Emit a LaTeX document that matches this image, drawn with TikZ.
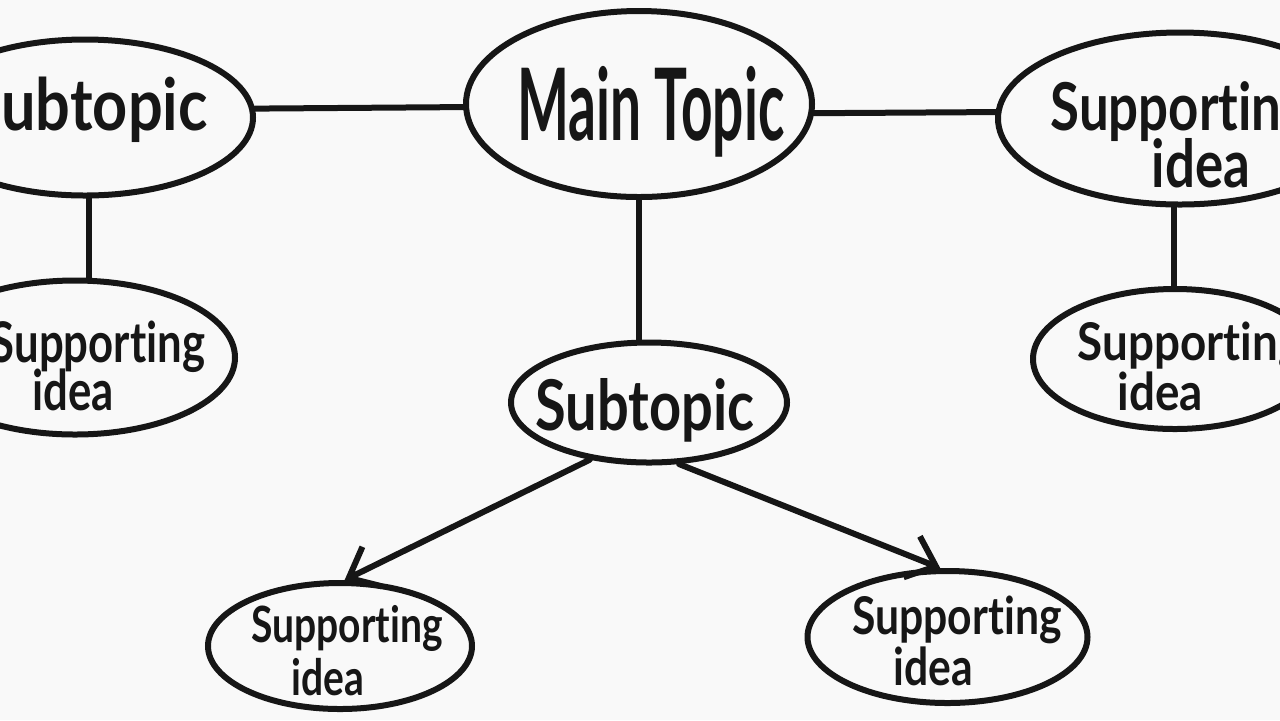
\documentclass[tikz,border=0pt]{standalone}
\usepackage{fontspec}
\setmainfont{Lato}[Ligatures={NoCommon}]
\usetikzlibrary{shapes.geometric,arrows.meta}
\definecolor{paper}{HTML}{F9F9F9}
\definecolor{ink}{HTML}{161616}
\newcommand\hw[3]{\scalebox{#1}[1]{\fontsize{#2pt}{#2pt}\selectfont\bfseries #3}}
\begin{document}
\begin{tikzpicture}[x=0.5pt,y=-0.5pt,
  bub/.style={ellipse, draw=ink, line width=3pt, inner sep=0pt},
  link/.style={draw=ink, line width=3pt, line cap=round},
  arr/.style={link, -{Straight Barb[length=13pt, width=22pt, line width=3pt]}},
  lbl/.style={anchor=base, inner sep=0pt, text=ink}]
\fill[paper] (0,0) rectangle (1280,720);
\useasboundingbox (0,0) rectangle (1280,720);
\clip (0,0) rectangle (1280,720);

% bubbles (minimum width in pt = horizontal radius in px)
\node[bub, minimum width=173pt, minimum height=93pt] (main) at (639,104) {};
\node[bub, minimum width=168pt, minimum height=78pt] (s1) at (85,117.5) {};
\node[bub, minimum width=160pt, minimum height=77pt] (sL) at (75,357.5) {};
\node[bub, minimum width=182pt, minimum height=86pt] (tr) at (1180,118.5) {};
\node[bub, minimum width=142pt, minimum height=70pt] (r2) at (1175,359) {};
\node[bub, minimum width=138pt, minimum height=60pt] (mid) at (649,402.5) {};
\node[bub, minimum width=132pt, minimum height=63pt] (bl) at (340,646) {};
\node[bub, minimum width=140pt, minimum height=66pt] (br) at (947.5,637) {};

% labels
\node[lbl] (tmain) at (651,140) {\hw{0.55}{50}{Main Topic}};
\node[lbl] (ts1) at (88,130) {\hw{0.85}{36}{Subtopic}};
\node[lbl] (tmid) at (645,430) {\hw{0.8}{35}{Subtopic}};
\node[lbl] (ttra) at (1180,130) {\hw{0.8}{33}{Supporting}};
\node[lbl] (ttrb) at (1201,187) {\hw{0.8}{33}{idea}};
\node[lbl] (tsLa) at (98,362) {\hw{0.78}{28}{Supporting}};
\node[lbl] (tsLb) at (73,410) {\hw{0.78}{28}{idea}};
\node[lbl] (tr2a) at (1190,360) {\hw{0.88}{26}{Supporting}};
\node[lbl] (tr2b) at (1160,410) {\hw{0.88}{26}{idea}};
\node[lbl] (tbla) at (347,642) {\hw{0.78}{25}{Supporting}};
\node[lbl] (tblb) at (328,695) {\hw{0.78}{25}{idea}};
\node[lbl] (tbra) at (957,634) {\hw{0.82}{26}{Supporting}};
\node[lbl] (tbrb) at (933,685) {\hw{0.82}{26}{idea}};

% connectors
\draw[link] (s1.3) -- (main.181);
\draw[link] (main.-3.5) -- (tr.178);
\draw[link] (s1.-87) -- (s1.-87 |- sL.north);
\draw[link] (main.south) -- (main.south |- mid.north);
\draw[link] (tr.-94) -- (tr.-94 |- r2.north);
\draw[arr] (mid.224) -- (bl.86);
\draw[arr] (mid.296) -- (br.96);
\end{tikzpicture}
\end{document}
